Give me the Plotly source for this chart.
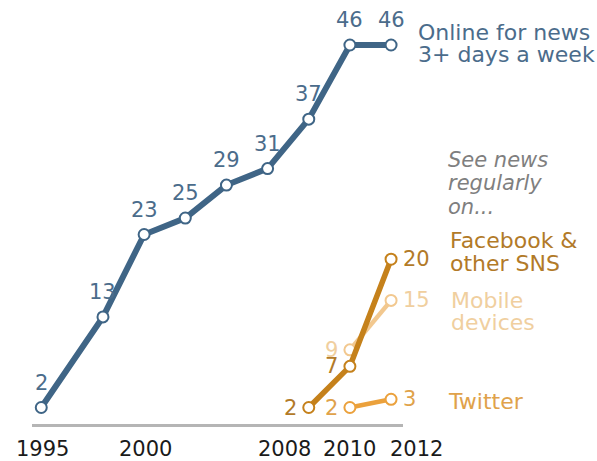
import plotly.graph_objects as go

# --- data -------------------------------------------------------------
news_years = [1995, 1998, 2000, 2002, 2004, 2006, 2008, 2010, 2012]
news_pct = [2, 13, 23, 25, 29, 31, 37, 46, 46]

fb_years = [2008, 2010, 2012]
fb_pct = [2, 7, 20]

mobile_years = [2010, 2012]
mobile_pct = [9, 15]

twitter_years = [2010, 2012]
twitter_pct = [2, 3]

tick_years = [1995, 2000, 2008, 2010, 2012]
tick_labels = ["1995", "2000", "2008", "2010", "2012"]

# --- styling ----------------------------------------------------------
FONT = "DejaVu Sans"
BLUE = "#3f6586"
BLUE_TXT = "#4b6c8b"
FB = "#c5811b"
FB_TXT = "#b27a28"
MOB = "#f2c88f"
MOB_TXT = "#f0cf9f"
TW = "#eba13c"
TW_TXT = "#e0a24a"

fig = go.Figure()


def add_series(xs, ys, color, width):
    fig.add_trace(go.Scatter(
        x=xs, y=ys, mode="lines+markers",
        line=dict(color=color, width=width),
        marker=dict(size=11, color="white", line=dict(color=color, width=2)),
        cliponaxis=False, hoverinfo="skip", showlegend=False,
    ))


add_series(twitter_years, twitter_pct, TW, 4.5)
add_series(mobile_years, mobile_pct, MOB, 4.5)
add_series(fb_years, fb_pct, FB, 5.5)
add_series(news_years, news_pct, BLUE, 6)

ann = []


def label(x, y, text, color, size=21, xanchor="center", yanchor="middle",
          xshift=0, yshift=0):
    ann.append(dict(
        x=x, y=y, xref="x", yref="y", text=text, showarrow=False,
        xanchor=xanchor, yanchor=yanchor, xshift=xshift, yshift=yshift,
        font=dict(family=FONT, size=size, color=color),
    ))


# values above the news line
for x, v in zip(news_years, news_pct):
    label(x, v, str(v), BLUE_TXT, yshift=25)

# values beside the smaller series: first points on the left, last on the right
for xs, vs, col in [(fb_years, fb_pct, FB_TXT),
                    (mobile_years, mobile_pct, MOB_TXT),
                    (twitter_years, twitter_pct, TW_TXT)]:
    for i, (x, v) in enumerate(zip(xs, vs)):
        if i == len(xs) - 1:
            label(x, v, str(v), col, xanchor="left", xshift=10)
        else:
            label(x, v, str(v), col, xanchor="right", xshift=-10)

# series names next to the final points
label(news_years[-1], news_pct[-1], "Online for news", BLUE_TXT, size=22,
      xanchor="left", xshift=25, yshift=13)
label(news_years[-1], news_pct[-1], "3+ days a week", BLUE_TXT, size=22,
      xanchor="left", xshift=25, yshift=-9)

label(fb_years[-1], fb_pct[-1], "Facebook &", FB_TXT, size=22,
      xanchor="left", xshift=57, yshift=19)
label(fb_years[-1], fb_pct[-1], "other SNS", FB_TXT, size=22,
      xanchor="left", xshift=57, yshift=-4)

label(mobile_years[-1], mobile_pct[-1], "Mobile", MOB_TXT, size=22,
      xanchor="left", xshift=58, yshift=0)
label(mobile_years[-1], mobile_pct[-1], "devices", MOB_TXT, size=22,
      xanchor="left", xshift=58, yshift=-22)

label(twitter_years[-1], twitter_pct[-1], "Twitter", TW_TXT, size=22,
      xanchor="left", xshift=55, yshift=-2)

# italic heading for the social / mobile group
for i, line in enumerate(["See news", "regularly", "on..."]):
    ann.append(dict(
        x=1.117, y=0.638, xref="paper", yref="paper", text=line,
        showarrow=False, xanchor="left", yanchor="middle",
        yshift=-23.5 * i,
        font=dict(family=FONT, size=21, color="#7f7f7f", style="italic"),
    ))

# year labels under the baseline; the crowded ones are nudged apart
tick_nudge = {2008: -24, 2010: 0, 2012: 25}
for yr, txt in zip(tick_years, tick_labels):
    ann.append(dict(
        x=yr, y=0, xref="x", yref="paper", text=txt, showarrow=False,
        xanchor="center", yanchor="middle", yshift=-25,
        xshift=tick_nudge.get(yr, 1),
        font=dict(family=FONT, size=21, color="#1a1a1a"),
    ))

fig.update_layout(
    width=597, height=461,
    margin=dict(l=32, r=194, t=10, b=37),
    paper_bgcolor="white", plot_bgcolor="white",
    annotations=ann,
    xaxis=dict(range=[1994.55, 2012.58], showgrid=False, zeroline=False,
               showticklabels=False, ticks="", showline=True,
               linecolor="#b5b5b5", linewidth=2.5, fixedrange=True),
    yaxis=dict(range=[0, 50.25], showgrid=False, zeroline=False,
               showticklabels=False, ticks="", showline=False,
               fixedrange=True),
)

fig.write_html("out.html")
